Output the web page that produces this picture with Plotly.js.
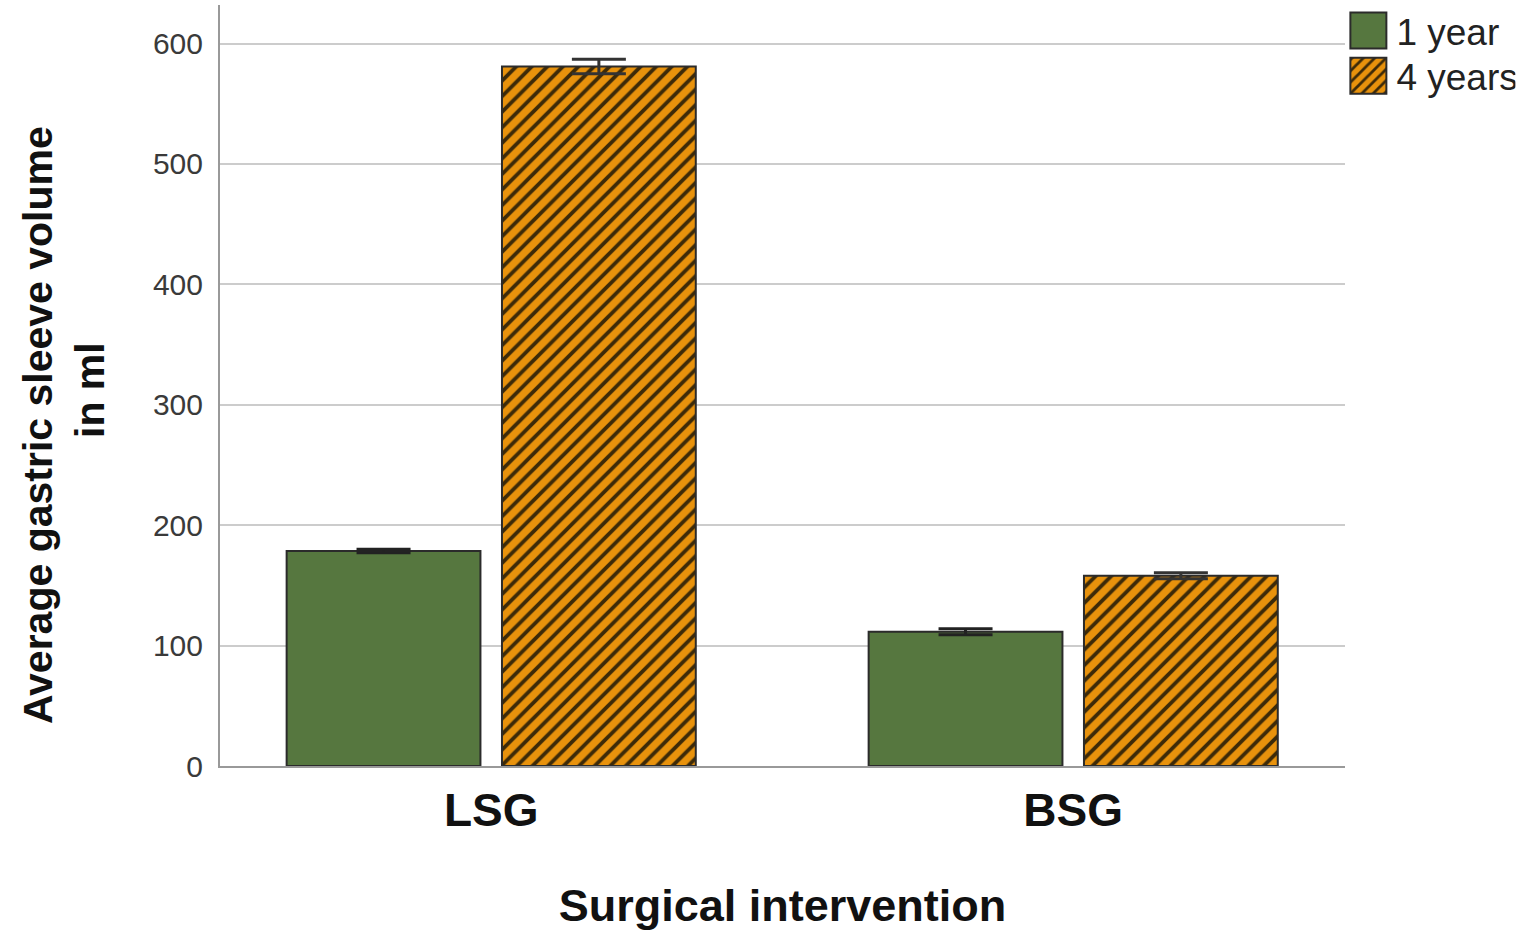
<!DOCTYPE html>
<html>
<head>
<meta charset="utf-8">
<script src="https://cdn.plot.ly/plotly-3.0.1.min.js"></script>
<style>html,body{margin:0;padding:0;background:#fff}#chart{width:1529px;height:933px}</style>
</head>
<body>
<div id="chart"></div>
<script>
const categories = ["LSG", "BSG"];
const seriesNames = ["1 year", "4 years"];
const oneYear = [178.5, 111.5];
const oneYearErr = [1.5, 2.5];
const fourYears = [581, 158];
const fourYearsErr = [6, 2.5];
const yTicks = [0, 100, 200, 300, 400, 500, 600];
const yTitleLines = ["Average gastric sleeve volume", "in ml"];
const xTitle = "Surgical intervention";

const traces = [
  {
    type: "bar", name: seriesNames[0], x: categories, y: oneYear,
    marker: { color: "#56773F", line: { color: "#2b2b2b", width: 2 } },
    error_y: { type: "data", array: oneYearErr, visible: true, color: "#222", thickness: 3, width: 27 }
  },
  {
    type: "bar", name: seriesNames[1], x: categories, y: fourYears,
    marker: {
      color: "#E8920C", line: { color: "#2b2b2b", width: 2 },
      pattern: { shape: "/", bgcolor: "#E8920C", fgcolor: "#3d2a08", size: 11, solidity: 0.35, fillmode: "replace" }
    },
    error_y: { type: "data", array: fourYearsErr, visible: true, color: "#333", thickness: 3, width: 27 }
  }
];

const layout = {
  width: 1529, height: 933,
  margin: { l: 220, r: 184, t: 5, b: 167, autoexpand: false },
  paper_bgcolor: "#fff", plot_bgcolor: "#fff",
  barmode: "group", bargap: 0.26, bargroupgap: 0.1,
  font: { family: "Liberation Sans, Arial, sans-serif", color: "#222" },
  xaxis: {
    type: "category", range: [-0.466, 1.467],
    showline: true, linecolor: "#999", linewidth: 2, ticks: "", showgrid: false,
    tickfont: { size: 46, color: "#111", weight: "bold" }, ticklabelstandoff: 3,
    title: { text: "<b>" + xTitle + "</b>", font: { size: 45, color: "#111" }, standoff: 54 },
    zeroline: false
  },
  yaxis: {
    range: [0, 632], tickvals: yTicks,
    showline: true, linecolor: "#999", linewidth: 2, ticks: "",
    showgrid: true, gridcolor: "#cccccc", gridwidth: 2, zeroline: false,
    tickfont: { size: 30, color: "#3a3a3a" }, ticklabelstandoff: 9
  },
  annotations: [
    { xref: "paper", yref: "paper", x: -0.1618, y: 0.448, xanchor: "center", yanchor: "middle",
      textangle: -90, showarrow: false, text: "<b>" + yTitleLines[0] + "</b>", font: { size: 41, color: "#111" } },
    { xref: "paper", yref: "paper", x: -0.1156, y: 0.494, xanchor: "center", yanchor: "middle",
      textangle: -90, showarrow: false, text: "<b>" + yTitleLines[1] + "</b>", font: { size: 41, color: "#111" } }
  ],
  legend: {
    x: 1.003, y: 1.0, xanchor: "left", yanchor: "top",
    font: { size: 37, color: "#222" }, bgcolor: "rgba(0,0,0,0)",
    tracegroupgap: 0, itemwidth: 30
  },
  showlegend: true
};

Plotly.newPlot("chart", traces, layout, { displayModeBar: false, staticPlot: true }).then(function () {
  document.querySelectorAll(".legend .legendpoints path").forEach(function (p) {
    p.setAttribute("d", "M18,18H-18V-18H18Z");
  });
  document.querySelectorAll(".legend text.legendtext").forEach(function (t) {
    var x = parseFloat(t.getAttribute("x") || "0");
    t.setAttribute("x", x + 8);
  });
  document.querySelectorAll(".legend g.traces").forEach(function (g, i) {
    var tr = g.getAttribute("transform") || "";
    var m = tr.match(/translate\(\s*([-\d.]+)[ ,]+([-\d.]+)\s*\)/);
    if (m) {
      g.setAttribute("transform", "translate(" + m[1] + "," + (parseFloat(m[2]) - 5 - 6 * i) + ")");
    }
  });
});
</script>
</body>
</html>
